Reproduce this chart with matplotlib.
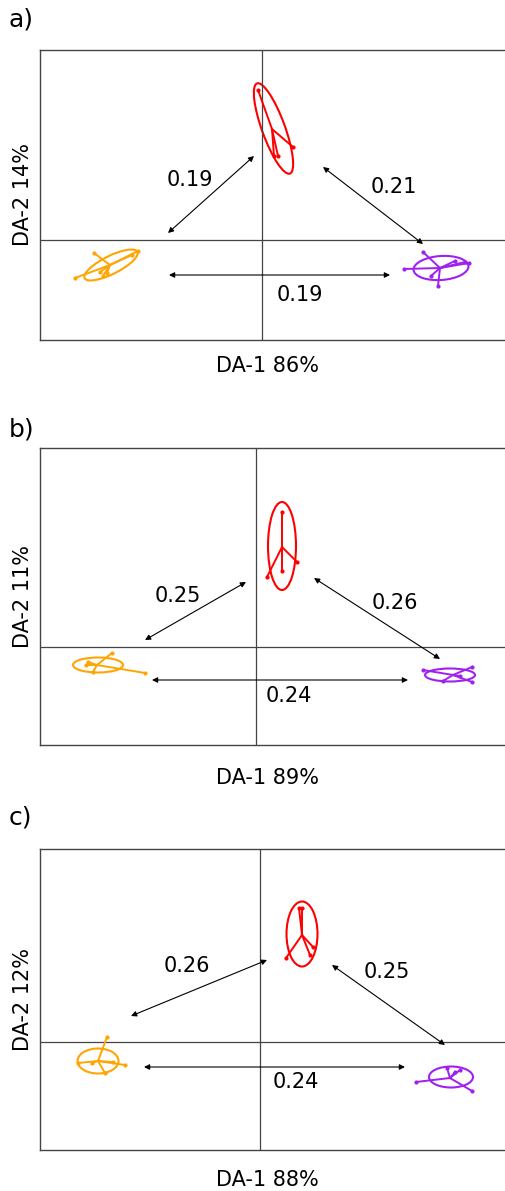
import matplotlib.pyplot as plt
from matplotlib.patches import Ellipse

# --- Données (unités DA) ---
PANELS = ['a)', 'b)', 'c)']
X_LABELS = ['DA-1 86%', 'DA-1 89%', 'DA-1 88%']
Y_LABELS = ['DA-2 14%', 'DA-2 11%', 'DA-2 12%']
GROUPES = ['orange', 'rouge', 'violet']
COULEURS = {'orange': '#FFA500', 'rouge': '#FF0000', 'violet': '#A020F0'}

# centroïdes par panneau
centres_a = {'orange': (-3.04, -0.50), 'rouge': (0.20, 2.22), 'violet': (3.56, -0.56)}
centres_b = {'orange': (-3.18, -0.36), 'rouge': (0.52, 2.00), 'violet': (3.94, -0.56)}
centres_c = {'orange': (-3.24, -0.38), 'rouge': (0.84, 2.14), 'violet': (3.80, -0.72)}

# individus par groupe
points_a = {
    'orange': [(-3.74, -0.76), (-2.48, -0.22), (-3.36, -0.26), (-3.18, -0.72),
               (-3.10, -0.66), (-3.24, -0.64), (-2.60, -0.30)],
    'rouge': [(-0.08, 3.00), (0.62, 1.86), (0.24, 1.68), (0.32, 1.68)],
    'violet': [(2.84, -0.58), (3.22, -0.24), (4.14, -0.46), (4.06, -0.44),
               (3.52, -0.92), (3.38, -0.72), (3.86, -0.42)],
}
points_b = {
    'orange': [(-2.88, -0.12), (-2.22, -0.52), (-3.36, -0.30), (-3.26, -0.50), (-3.40, -0.36)],
    'rouge': [(0.52, 2.70), (0.52, 1.52), (0.22, 1.40), (0.82, 1.70)],
    'violet': [(4.32, -0.40), (4.32, -0.70), (3.34, -0.46), (3.74, -0.68), (4.08, -0.58)],
}
points_c = {
    'orange': [(-3.06, 0.10), (-2.70, -0.46), (-3.64, -0.42), (-3.10, -0.62),
               (-2.94, -0.40), (-3.36, -0.42)],
    'rouge': [(0.78, 2.68), (0.84, 2.68), (0.52, 1.68), (1.00, 1.74), (1.06, 1.90)],
    'violet': [(3.12, -0.80), (4.24, -0.98), (4.00, -0.56), (3.74, -0.52), (3.90, -0.60)],
}

# ellipses : (centre x, centre y, largeur, hauteur, angle)
ellipses_a = {'orange': (-3.02, -0.50, 1.18, 0.36, 26.6),
              'rouge': (0.23, 2.23, 1.92, 0.46, 110),
              'violet': (3.58, -0.56, 1.10, 0.48, 4)}
ellipses_b = {'orange': (-3.16, -0.36, 1.00, 0.30, 0),
              'rouge': (0.52, 2.02, 0.56, 1.76, 0),
              'violet': (3.88, -0.56, 1.00, 0.26, 0)}
ellipses_c = {'orange': (-3.24, -0.38, 0.82, 0.50, 0),
              'rouge': (0.84, 2.16, 0.62, 1.30, 0),
              'violet': (3.82, -0.70, 0.88, 0.42, 0)}

# distances entre groupes : (début, fin, texte, position du texte)
fleches_a = [((-1.88, 0.14), (-0.16, 1.68), '0.19', (-1.44, 1.20)),
             ((1.22, 1.46), (3.22, -0.08), '0.21', (2.64, 1.06)),
             ((-1.86, -0.70), (2.56, -0.70), '0.19', (0.76, -1.10))]
fleches_b = [((-2.22, 0.14), (-0.20, 1.30), '0.25', (-1.56, 1.02)),
             ((1.16, 1.38), (3.68, -0.24), '0.26', (2.78, 0.88)),
             ((-2.08, -0.66), (3.04, -0.66), '0.24', (0.66, -0.98))]
fleches_c = [((-2.58, 0.52), (0.14, 1.64), '0.26', (-1.46, 1.52)),
             ((1.44, 1.54), (3.70, -0.06), '0.25', (2.54, 1.40)),
             ((-2.32, -0.50), (2.90, -0.50), '0.24', (0.72, -0.80))]

# --- Mise en page (pixels) ---
W, H = 505, 1191
cadres = [  # haut, bas, xlim, ylim
    (50, 340, (-4.44, 5.66), (-2.00, 3.80)),
    (448, 745, (-4.32, 5.78), (-1.96, 3.98)),
    (849, 1150, (-4.40, 5.70), (-2.16, 3.86)),
]
lettres_y = [20, 430, 817]
xlabel_y = [366, 778, 1180]

fig = plt.figure(figsize=(W / 100, H / 100), dpi=100)

donnees = [(centres_a, points_a, ellipses_a, fleches_a),
           (centres_b, points_b, ellipses_b, fleches_b),
           (centres_c, points_c, ellipses_c, fleches_c)]

for k, (centres, points, ells, fleches) in enumerate(donnees):
    haut, bas, xl, yl = cadres[k]
    ax = fig.add_axes([40 / W, 1 - bas / H, 505 / W, (bas - haut) / H])
    ax.set_xlim(xl)
    ax.set_ylim(yl)
    ax.set_xticks([])
    ax.set_yticks([])
    ax.spines['right'].set_visible(False)
    for s in ['left', 'top', 'bottom']:
        ax.spines[s].set_color('#444444')
        ax.spines[s].set_linewidth(1.0)
    ax.axhline(0, color='#444444', lw=0.9)
    ax.axvline(0, color='#444444', lw=0.9)

    for g in GROUPES:
        c = COULEURS[g]
        cx, cy = centres[g]
        for px, py in points[g]:
            ax.plot([cx, px], [cy, py], color=c, lw=1.4)
            ax.plot(px, py, 'o', color=c, ms=2)
        ex, ey, ew, eh, ang = ells[g]
        ax.add_patch(Ellipse((ex, ey), ew, eh, angle=ang, fill=False,
                             edgecolor=c, lw=1.5))

    for debut, fin, txt, pos in fleches:
        ax.annotate('', xy=fin, xytext=debut,
                    arrowprops=dict(arrowstyle='<|-|>', color='black', lw=0.8,
                                    mutation_scale=8, shrinkA=0, shrinkB=0))
        ax.text(pos[0], pos[1], txt, fontsize=15, ha='center', va='center')

    ax.set_ylabel(Y_LABELS[k], fontsize=15, labelpad=5)
    fig.text(267 / W, 1 - xlabel_y[k] / H, X_LABELS[k], fontsize=15,
             ha='center', va='center')
    fig.text(9 / W, 1 - lettres_y[k] / H, PANELS[k], fontsize=18,
             ha='left', va='center')

fig.savefig('out.png', dpi=100)
